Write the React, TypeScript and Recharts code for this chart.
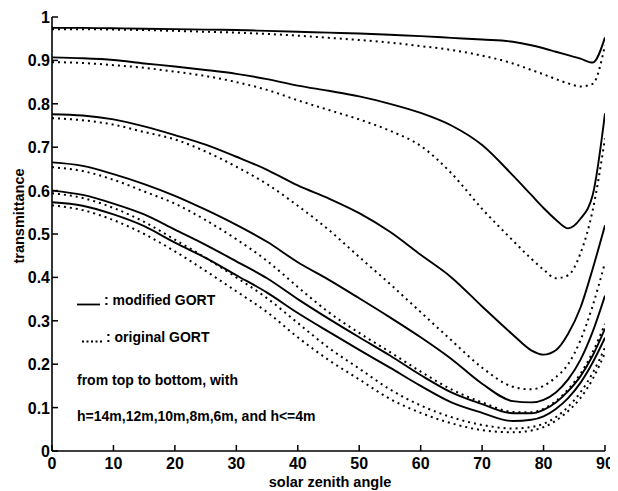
import React from "react";
import { LineChart, Line, XAxis, YAxis } from "recharts";

const angles = [0, 5, 10, 15, 20, 25, 30, 35, 40, 45, 50, 55, 60, 65, 70, 75, 78, 80, 82, 84, 86, 88, 90];

// modified GORT (solid), h = 14m, 12m, 10m, 8m, 6m, <=4m
const mod14 = [0.975, 0.975, 0.974, 0.973, 0.972, 0.971, 0.97, 0.968, 0.966, 0.964, 0.962, 0.959, 0.956, 0.952, 0.948, 0.943, 0.935, 0.928, 0.92, 0.912, 0.904, 0.895, 0.953];
const mod12 = [0.907, 0.905, 0.901, 0.893, 0.886, 0.878, 0.869, 0.857, 0.842, 0.83, 0.817, 0.8, 0.779, 0.75, 0.705, 0.635, 0.59, 0.56, 0.533, 0.513, 0.535, 0.59, 0.778];
const mod10 = [0.776, 0.773, 0.764, 0.748, 0.728, 0.706, 0.678, 0.648, 0.612, 0.582, 0.548, 0.505, 0.452, 0.4, 0.333, 0.268, 0.232, 0.222, 0.232, 0.27, 0.33, 0.42, 0.52];
const mod8 = [0.665, 0.657, 0.638, 0.615, 0.588, 0.556, 0.521, 0.482, 0.435, 0.395, 0.352, 0.308, 0.262, 0.212, 0.155, 0.115, 0.112, 0.118, 0.135, 0.165, 0.21, 0.275, 0.358];
const mod6 = [0.6, 0.59, 0.57, 0.545, 0.51, 0.475, 0.437, 0.398, 0.35, 0.305, 0.262, 0.22, 0.175, 0.135, 0.108, 0.087, 0.087, 0.095, 0.112, 0.138, 0.172, 0.22, 0.282];
const mod4 = [0.573, 0.565, 0.545, 0.518, 0.48, 0.445, 0.405, 0.365, 0.318, 0.275, 0.233, 0.192, 0.15, 0.112, 0.088, 0.069, 0.072, 0.08, 0.097, 0.122, 0.157, 0.204, 0.261];

// original GORT (dotted)
const orig14 = [0.972, 0.972, 0.971, 0.97, 0.968, 0.966, 0.964, 0.961, 0.957, 0.952, 0.947, 0.941, 0.933, 0.924, 0.911, 0.893, 0.878, 0.868, 0.857, 0.847, 0.84, 0.846, 0.935];
const orig12 = [0.896, 0.894, 0.889, 0.883, 0.874, 0.864, 0.85, 0.832, 0.808, 0.786, 0.764, 0.738, 0.703, 0.64, 0.558, 0.485, 0.443, 0.418, 0.398, 0.405, 0.455, 0.555, 0.72];
const orig10 = [0.767, 0.762, 0.752, 0.735, 0.718, 0.69, 0.655, 0.615, 0.565, 0.51, 0.447, 0.385, 0.32, 0.255, 0.192, 0.148, 0.142, 0.15, 0.17, 0.2, 0.255, 0.335, 0.434];
const orig8 = [0.654, 0.645, 0.625, 0.598, 0.57, 0.532, 0.488, 0.438, 0.378, 0.32, 0.272, 0.228, 0.183, 0.142, 0.112, 0.09, 0.089, 0.097, 0.115, 0.142, 0.178, 0.228, 0.293];
const orig6 = [0.594, 0.583, 0.56, 0.528, 0.487, 0.445, 0.4, 0.352, 0.295, 0.238, 0.19, 0.142, 0.105, 0.078, 0.06, 0.052, 0.055, 0.063, 0.078, 0.102, 0.135, 0.18, 0.238];
const orig4 = [0.566, 0.555, 0.532, 0.5, 0.46, 0.415, 0.368, 0.32, 0.262, 0.21, 0.165, 0.12, 0.088, 0.064, 0.048, 0.043, 0.047, 0.055, 0.07, 0.092, 0.122, 0.166, 0.226];

const xTicks = [0, 10, 20, 30, 40, 50, 60, 70, 80, 90];
const yTicks = [0, 0.1, 0.2, 0.3, 0.4, 0.5, 0.6, 0.7, 0.8, 0.9, 1];

const solidSeries = { mod14, mod12, mod10, mod8, mod6, mod4 };
const dottedSeries = { orig14, orig12, orig10, orig8, orig6, orig4 };

const data = angles.map((a, i) => {
  const row: Record<string, number> = { angle: a };
  Object.entries(solidSeries).forEach(([k, v]) => (row[k] = v[i]));
  Object.entries(dottedSeries).forEach(([k, v]) => (row[k] = v[i]));
  return row;
});

const FONT = "'Liberation Sans', Arial, Helvetica, sans-serif";
const TICK_LEN = 6;

const BottomTick = (props: any) => {
  const { x, y, payload } = props;
  return (
    <g>
      <line x1={x} x2={x} y1={y} y2={y - TICK_LEN} stroke="#000" strokeWidth={1.5} />
      <text x={x} y={y + 18} textAnchor="middle" fontSize={16} fontWeight="bold" fontFamily={FONT} fill="#000">
        {payload.value}
      </text>
    </g>
  );
};

const TopTick = (props: any) => {
  const { x, y } = props;
  return <line x1={x} x2={x} y1={y} y2={y + TICK_LEN} stroke="#000" strokeWidth={1.5} />;
};

const LeftTick = (props: any) => {
  const { x, y, payload } = props;
  return (
    <g>
      <line x1={x} x2={x + TICK_LEN} y1={y} y2={y} stroke="#000" strokeWidth={1.5} />
      <text x={x - 2} y={y + 6} textAnchor="end" fontSize={16} fontWeight="bold" fontFamily={FONT} fill="#000">
        {String(payload.value)}
      </text>
    </g>
  );
};

const RightTick = (props: any) => {
  const { x, y } = props;
  return <line x1={x} x2={x - TICK_LEN} y1={y} y2={y} stroke="#000" strokeWidth={1.5} />;
};

export default function App() {
  const W = 610;
  const H = 483;
  return (
    <div style={{ position: "relative", width: W, height: H, background: "#fff" }}>
      <LineChart width={W} height={H} data={data} margin={{ top: 9, right: 13, bottom: 0, left: 0 }}>
        <XAxis
          dataKey="angle"
          type="number"
          domain={[0, 90]}
          ticks={xTicks}
          allowDataOverflow
          height={40}
          tickSize={0}
          tickMargin={0}
          tickLine={false}
          axisLine={{ stroke: "#000", strokeWidth: 1.6 }}
          tick={<BottomTick />}
          interval={0}
        />
        <XAxis
          xAxisId="top"
          orientation="top"
          dataKey="angle"
          type="number"
          domain={[0, 90]}
          ticks={xTicks}
          allowDataOverflow
          height={0}
          tickSize={0}
          tickMargin={0}
          tickLine={false}
          axisLine={{ stroke: "#000", strokeWidth: 1.6 }}
          tick={<TopTick />}
          interval={0}
        />
        <YAxis
          type="number"
          domain={[0, 1]}
          ticks={yTicks}
          allowDataOverflow
          width={44}
          tickSize={0}
          tickMargin={0}
          tickLine={false}
          axisLine={{ stroke: "#000", strokeWidth: 1.6 }}
          tick={<LeftTick />}
          interval={0}
        />
        <YAxis
          yAxisId="right"
          orientation="right"
          type="number"
          domain={[0, 1]}
          ticks={yTicks}
          allowDataOverflow
          width={0}
          tickSize={0}
          tickMargin={0}
          tickLine={false}
          axisLine={{ stroke: "#000", strokeWidth: 1.6 }}
          tick={<RightTick />}
          interval={0}
        />
        {Object.keys(dottedSeries).map((k) => (
          <Line
            key={k}
            dataKey={k}
            type="monotone"
            stroke="#000"
            strokeWidth={2}
            strokeDasharray="2 4"
            dot={false}
            activeDot={false}
            isAnimationActive={false}
          />
        ))}
        {Object.keys(solidSeries).map((k) => (
          <Line
            key={k}
            dataKey={k}
            type="monotone"
            stroke="#000"
            strokeWidth={1.9}
            dot={false}
            activeDot={false}
            isAnimationActive={false}
          />
        ))}
      </LineChart>
      <svg
        width={W}
        height={H}
        style={{ position: "absolute", left: 0, top: 0, pointerEvents: "none" }}
        fontFamily={FONT}
      >
        <text
          x={16}
          y={208}
          transform="rotate(-90, 16, 208)"
          textAnchor="middle"
          fontSize={14.5}
          fontWeight="bold"
          fill="#000"
        >
          transmittance
        </text>
        <text x={322} y={479} textAnchor="middle" fontSize={14.5} fontWeight="bold" fill="#000">
          solar zenith angle
        </text>
        <line x1={69} x2={92} y1={296.5} y2={296.5} stroke="#000" strokeWidth={1.8} />
        <text x={96} y={297} fontSize={14} fontWeight="bold" fill="#000">
          : modified GORT
        </text>
        <line x1={74} x2={95} y1={333.5} y2={333.5} stroke="#000" strokeWidth={2} strokeDasharray="2 2.5" />
        <text x={98} y={334} fontSize={14} fontWeight="bold" fill="#000">
          : original GORT
        </text>
        <text x={69} y={377} fontSize={14} fontWeight="bold" fill="#000">
          from top to bottom, with
        </text>
        <text x={69} y={413} fontSize={14} fontWeight="bold" fill="#000">
          h=14m,12m,10m,8m,6m, and h&lt;=4m
        </text>
      </svg>
    </div>
  );
}
